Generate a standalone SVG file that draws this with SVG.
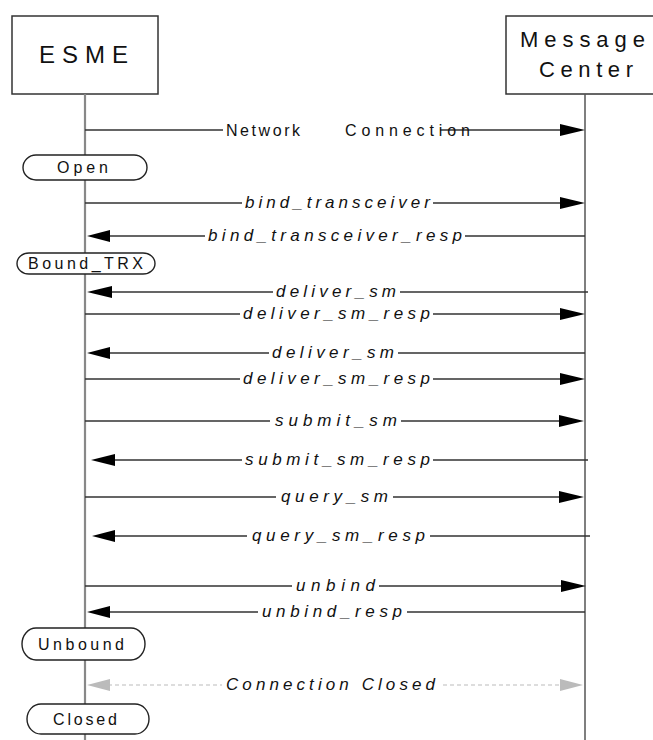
<svg xmlns="http://www.w3.org/2000/svg" width="653" height="740" viewBox="0 0 653 740">
<style>
.box{fill:#fff;stroke:#333;stroke-width:1.5}
.pill{fill:#fff;stroke:#222;stroke-width:1.4}
.ll1{stroke:#888;stroke-width:2.2}
.ll2{stroke:#555;stroke-width:1.5}
.msg{stroke:#333;stroke-width:1.3;fill:none}
.dash{stroke:#bbb;stroke-width:1.2;stroke-dasharray:4 3;fill:none}
.ah{fill:#000}
.ahg{fill:#bbb}
.t{font-family:"Liberation Sans",Arial,sans-serif;fill:#111}
.lbl{font-family:"Liberation Sans",Arial,sans-serif;font-style:italic;font-size:17px;fill:#111}
.st{font-family:"Liberation Sans",Arial,sans-serif;font-size:16px;fill:#111}
</style>
<rect width="653" height="740" fill="#fff"/>
<g id="esme">
<rect class="box" x="12" y="16" width="146" height="78"/>
<text class="t" x="39" y="63" font-size="24" textLength="89" lengthAdjust="spacing">ESME</text>
</g>
<g id="mc">
<rect class="box" x="506" y="16" width="160" height="78"/>
<text class="t" x="520" y="47" font-size="22" textLength="125" lengthAdjust="spacing">Message</text>
<text class="t" x="539" y="77" font-size="22" textLength="94" lengthAdjust="spacing">Center</text>
</g>
<g id="lifelines">
<line class="ll1" x1="85" y1="94" x2="85" y2="740"/>
<line class="ll2" x1="585" y1="94" x2="585" y2="740"/>
</g>
<g id="state-open">
<rect class="pill" x="23" y="155" width="124" height="25" rx="13" ry="12.5"/>
<text class="st" x="57" y="173" textLength="51" lengthAdjust="spacing">Open</text>
</g>
<g id="state-bound">
<rect class="pill" x="17" y="253" width="138" height="21" rx="12" ry="10.5"/>
<text class="st" x="28" y="269" textLength="115" lengthAdjust="spacing">Bound_TRX</text>
</g>
<g id="state-unbound">
<rect class="pill" x="22" y="628" width="123" height="32" rx="14" ry="16"/>
<text class="st" x="38" y="650" textLength="86" lengthAdjust="spacing">Unbound</text>
</g>
<g id="state-closed">
<rect class="pill" x="27" y="704" width="122" height="30" rx="14" ry="15"/>
<text class="st" x="53" y="725" textLength="64" lengthAdjust="spacing">Closed</text>
</g>
<g id="connectors">
<!-- Network Connection -->
<path class="msg" d="M85 130H223M440 130H562"/>
<polygon class="ah" points="585,130 560,124 560,136"/>
<text class="t" x="226" y="136" font-size="16" textLength="74" lengthAdjust="spacing">Network</text>
<text class="t" x="345" y="136" font-size="16" textLength="125" lengthAdjust="spacing">Connection</text>
<!-- bind_transceiver -->
<path class="msg" d="M85 203H242M433 203H562"/>
<polygon class="ah" points="585,203 560,197 560,209"/>
<text class="lbl" x="245" y="208" textLength="185" lengthAdjust="spacing">bind_transceiver</text>
<!-- bind_transceiver_resp -->
<path class="msg" d="M108 236H205M465 236H585"/>
<polygon class="ah" points="87,236 110,230 110,242"/>
<text class="lbl" x="208" y="241" textLength="254" lengthAdjust="spacing">bind_transceiver_resp</text>
<!-- deliver_sm -->
<path class="msg" d="M108 292H273M400 292H588"/>
<polygon class="ah" points="87,292 112,286 112,298"/>
<text class="lbl" x="276" y="297" textLength="120" lengthAdjust="spacing">deliver_sm</text>
<!-- deliver_sm_resp -->
<path class="msg" d="M85 314H240M433 314H562"/>
<polygon class="ah" points="585,314 560,308 560,320"/>
<text class="lbl" x="243" y="319" textLength="187" lengthAdjust="spacing">deliver_sm_resp</text>
<!-- deliver_sm 2 -->
<path class="msg" d="M108 353H269M398 353H585"/>
<polygon class="ah" points="87,353 110,347 110,359"/>
<text class="lbl" x="272" y="358" textLength="122" lengthAdjust="spacing">deliver_sm</text>
<!-- deliver_sm_resp 2 -->
<path class="msg" d="M85 379H240M433 379H562"/>
<polygon class="ah" points="585,379 560,373 560,385"/>
<text class="lbl" x="243" y="384" textLength="187" lengthAdjust="spacing">deliver_sm_resp</text>
<!-- submit_sm -->
<path class="msg" d="M85 421H270M401 421H562"/>
<polygon class="ah" points="584,421 559,415 559,427"/>
<text class="lbl" x="275" y="426" textLength="122" lengthAdjust="spacing">submit_sm</text>
<!-- submit_sm_resp -->
<path class="msg" d="M112 460H242M433 460H588"/>
<polygon class="ah" points="91,460 115,454 115,466"/>
<text class="lbl" x="245" y="465" textLength="185" lengthAdjust="spacing">submit_sm_resp</text>
<!-- query_sm -->
<path class="msg" d="M85 497H276M393 497H562"/>
<polygon class="ah" points="584,497 559,491 559,503"/>
<text class="lbl" x="281" y="502" textLength="107" lengthAdjust="spacing">query_sm</text>
<!-- query_sm_resp -->
<path class="msg" d="M112 536H247M430 536H590"/>
<polygon class="ah" points="92,536 115,530 115,542"/>
<text class="lbl" x="252" y="541" textLength="173" lengthAdjust="spacing">query_sm_resp</text>
<!-- unbind -->
<path class="msg" d="M85 586H292M379 586H562"/>
<polygon class="ah" points="586,586 561,580 561,592"/>
<text class="lbl" x="296" y="591" textLength="79" lengthAdjust="spacing">unbind</text>
<!-- unbind_resp -->
<path class="msg" d="M108 612H258M407 612H585"/>
<polygon class="ah" points="87,612 110,606 110,618"/>
<text class="lbl" x="262" y="617" textLength="140" lengthAdjust="spacing">unbind_resp</text>
<!-- Connection Closed -->
<path class="dash" d="M108 685H222M443 685H562"/>
<polygon class="ahg" points="87,685 110,679 110,691"/>
<polygon class="ahg" points="583,685 560,679 560,691"/>
<text class="lbl" x="226" y="690" textLength="209" lengthAdjust="spacing" fill="#222">Connection Closed</text>
</g>
</svg>
